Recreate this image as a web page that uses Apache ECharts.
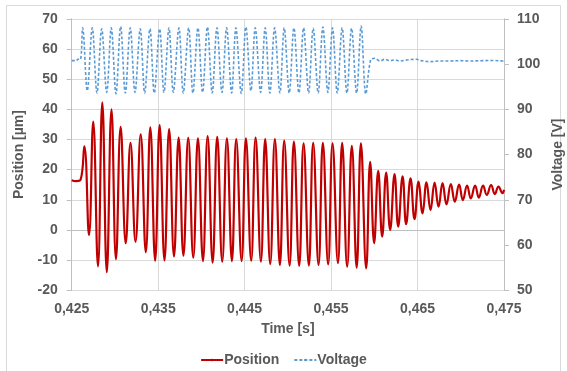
<!DOCTYPE html>
<html>
<head>
<meta charset="utf-8">
<script src="https://cdn.jsdelivr.net/npm/echarts@6/dist/echarts.min.js"></script>
<style>html,body{margin:0;padding:0;background:#fff}#c{width:567px;height:371px}</style>
</head>
<body>
<div id="c"></div>
<script>
// Time in milliseconds (axis shows seconds)
var posTimeMs = [425.00,425.50,426.02,426.46,427.00,427.49,428.04,428.54,429.06,429.60,430.12,430.66,431.25,431.80,432.38,432.98,433.57,434.09,434.65,435.17,435.73,436.27,436.83,437.37,437.92,438.48,439.06,439.60,440.18,440.72,441.30,441.83,442.41,442.95,443.53,444.03,444.65,445.15,445.76,446.27,446.88,447.38,447.96,448.50,449.08,449.58,450.20,450.70,451.31,451.82,452.43,452.93,453.55,454.05,454.66,455.17,455.79,456.28,456.86,457.40,457.96,458.45,459.06,459.52,459.98,460.45,460.91,461.37,461.83,462.34,462.76,463.27,463.68,464.19,464.65,465.12,465.58,466.04,466.50,466.97,467.43,467.89,468.35,468.85,469.31,469.81,470.24,470.73,471.16,471.66,472.09,472.58,473.01,473.51,473.94,474.36,474.83,475.00];
var position = [16.5,16.2,16.6,27.7,-1.7,35.9,-12.1,42.3,-14.0,40.0,-9.7,34.2,-4.4,28.9,-3.9,31.7,-7.4,34.0,-10.2,34.8,-10.1,33.4,-8.8,30.6,-8.5,30.5,-9.2,30.4,-10.3,31.1,-10.8,30.9,-10.5,30.4,-10.3,30.1,-10.3,30.4,-10.2,30.6,-10.5,30.1,-11.3,30.1,-11.6,29.6,-11.8,29.3,-11.9,28.7,-11.8,28.9,-11.6,28.9,-11.4,28.7,-11.0,28.9,-12.2,27.9,-12.5,28.7,-12.7,22.6,-4.4,19.6,-2.2,19.0,0.0,18.5,1.1,17.8,1.9,17.1,3.6,16.0,5.5,15.8,6.6,15.7,7.7,15.5,8.5,15.2,9.4,15.0,9.9,14.7,10.5,14.7,10.7,14.7,11.6,14.9,11.9,14.4,12.2,13.3];

var voltTimeMs = [425.00,425.55,425.70,426.00,426.27,426.80,427.38,427.92,428.47,429.05,429.58,430.12,430.66,431.20,431.77,432.32,432.93,433.44,434.05,434.55,435.17,435.67,436.25,436.75,437.40,437.90,438.53,439.02,439.60,440.14,440.70,441.25,441.80,442.38,442.92,443.50,443.99,444.61,445.15,445.73,446.23,446.85,447.38,447.92,448.47,449.08,449.58,450.16,450.70,451.28,451.82,452.40,452.93,453.51,454.05,454.63,455.17,455.71,456.28,456.83,457.37,457.95,458.48,459.02,459.57,460.06,460.64,461.22,461.80,462.38,462.95,463.73,464.88,465.46,466.42,467.58,468.73,469.89,471.05,472.58,473.74,474.90,475.00];
var voltage = [100.75,100.75,101.05,101.05,108.0,94.1,108.0,93.6,107.8,93.75,108.0,93.4,108.3,93.6,108.0,93.75,107.8,93.6,107.8,93.6,107.8,93.75,108.0,93.75,108.0,93.6,108.0,93.6,108.0,93.75,108.2,93.6,108.0,93.75,108.0,93.6,108.0,93.5,108.2,94.1,108.0,93.75,108.0,93.6,108.0,93.6,108.0,93.6,108.0,93.6,108.0,93.6,107.9,93.6,108.2,93.75,108.0,93.6,108.0,93.6,107.9,93.6,108.4,93.4,100.9,101.27,100.67,101.05,100.75,100.9,100.67,100.9,101.05,100.75,100.53,100.67,100.67,100.75,100.67,100.75,100.8,100.67,100.7];

var xTickLabels = ['0,425','0,435','0,445','0,455','0,465','0,475'];
var leftTicks = [-20,-10,0,10,20,30,40,50,60,70];
var rightTicks = [50,60,70,80,90,100,110];

var posData = posTimeMs.map(function(t,i){return [t, position[i]];});
var voltData = voltTimeMs.map(function(t,i){return [t, voltage[i]];});

var txt = '#595959';
var font = '"Liberation Sans", Arial, sans-serif';
var chart = echarts.init(document.getElementById('c'), null, {renderer:'canvas'});
chart.setOption({
  animation:false,
  backgroundColor:'#fff',
  textStyle:{fontFamily:font},
  graphic:[{type:'rect', shape:{x:6.5,y:5.5,width:554,height:375}, style:{fill:'none', stroke:'#d9d9d9', lineWidth:1}, silent:true}],
  grid:{left:71.7, right:63, top:18.8, bottom:80.7, containLabel:false, outerBoundsMode:'none'},
  legend:{
    top:348, left:'center', itemWidth:22, itemHeight:3, itemGap:14,
    textStyle:{color:txt, fontSize:14, fontWeight:'bold', fontFamily:font, padding:[0,0,0,-4]},
    data:['Position','Voltage']
  },
  xAxis:{
    type:'value', min:425, max:475, interval:10,
    name:'Time [s]', nameLocation:'middle', nameGap:32,
    nameTextStyle:{color:txt, fontSize:14, fontWeight:'bold', fontFamily:font},
    axisLine:{show:true, lineStyle:{color:'#bfbfbf', width:1}},
    axisTick:{show:false},
    axisLabel:{color:txt, fontSize:14, fontWeight:'bold', fontFamily:font, margin:12,
      formatter:function(v){ var i=Math.round((v-425)/10); return xTickLabels[i]||''; }},
    splitLine:{show:true, lineStyle:{color:'#d9d9d9', width:1}}
  },
  yAxis:[{
    type:'value', min:leftTicks[0], max:leftTicks[leftTicks.length-1], interval:10, position:'left',
    name:'Position [µm]', nameLocation:'middle', nameGap:42, nameRotate:90,
    nameTextStyle:{color:txt, fontSize:14, fontWeight:'bold', fontFamily:font},
    axisLine:{show:true, lineStyle:{color:'#bfbfbf', width:1}},
    axisTick:{show:true, length:5, lineStyle:{color:'#bfbfbf'}},
    axisLabel:{color:txt, fontSize:14, fontWeight:'bold', fontFamily:font, margin:14},
    splitLine:{show:true, lineStyle:{color:'#d9d9d9', width:1}}
  },{
    type:'value', min:rightTicks[0], max:rightTicks[rightTicks.length-1], interval:10, position:'right',
    name:'Voltage [V]', nameLocation:'middle', nameGap:44, nameRotate:90,
    nameTextStyle:{color:txt, fontSize:14, fontWeight:'bold', fontFamily:font},
    axisLine:{show:true, lineStyle:{color:'#bfbfbf', width:1}},
    axisTick:{show:true, length:5, lineStyle:{color:'#bfbfbf'}},
    axisLabel:{color:txt, fontSize:14, fontWeight:'bold', fontFamily:font, margin:13},
    splitLine:{show:false}
  }],
  series:[{
    name:'Position', type:'line', yAxisIndex:0, data:posData, smooth:0.45,
    symbol:'none', showSymbol:false, color:'#c00000',
    lineStyle:{color:'#c00000', width:2.2}, z:3
  },{
    name:'Voltage', type:'line', yAxisIndex:1, data:voltData, smooth:0.35,
    symbol:'none', showSymbol:false, color:'#5b9bd5',
    lineStyle:{color:'#5b9bd5', width:1.6, type:[3,2]}, z:2
  }]
});
</script>
</body>
</html>
